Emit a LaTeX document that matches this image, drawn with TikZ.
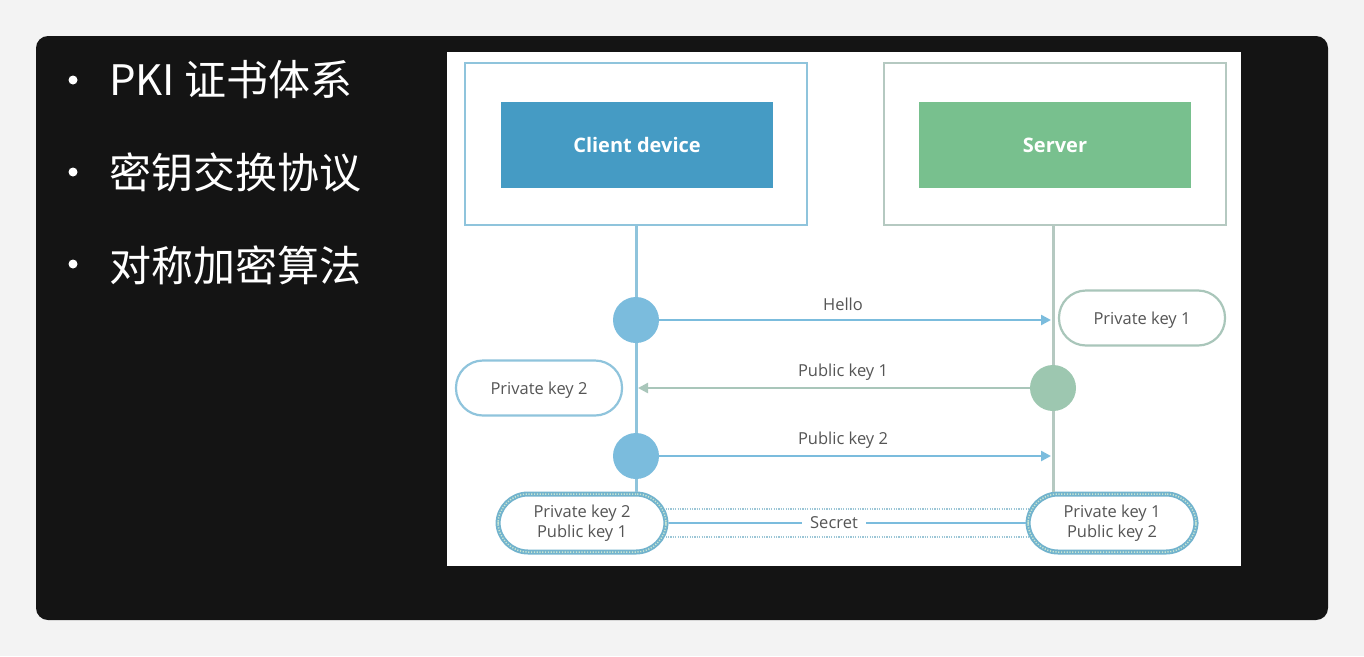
\documentclass[tikz,border=0pt]{standalone}
\usepackage{fontspec}
\setmainfont{Open Sans}
\newfontfamily\cjk{Noto Sans CJK SC}
\usetikzlibrary{arrows.meta,positioning,calc}
\definecolor{panelbg}{HTML}{141414}
\definecolor{pagebg}{HTML}{F3F3F3}
\definecolor{cfill}{HTML}{459BC4}
\definecolor{cline}{HTML}{8FC4DC}
\definecolor{sfill}{HTML}{78C08E}
\definecolor{sline}{HTML}{B5C9C1}
\definecolor{ccirc}{HTML}{7BBCDD}
\definecolor{scirc}{HTML}{9DC7B0}
\definecolor{sarrow}{HTML}{A9C6BA}
\definecolor{txt}{HTML}{555555}
\definecolor{botline}{HTML}{72B3CD}
\definecolor{botdot}{HTML}{C9E6D2}
\definecolor{secdot}{HTML}{9CC6D6}
\begin{document}
\begin{tikzpicture}[x=1pt,y=-1pt,
  outerbox/.style={draw, line width=2.5pt, fill=white, minimum width=342pt, minimum height=162pt, inner sep=0pt},
  fillbox/.style={minimum width=272pt, minimum height=86pt, inner sep=0pt, text depth=0pt, text=white, font=\fontsize{20}{22}\selectfont\bfseries},
  dotnode/.style={circle, minimum size=46pt, inner sep=0pt},
  msg/.style={line width=2.4pt, shorten >=2pt},
  msglabel/.style={text=txt, font=\fontsize{16.5}{18}\selectfont, inner sep=0pt},
  keybox/.style={draw, line width=2.2pt, fill=white, rounded corners=27pt, minimum width=166pt, minimum height=55pt, inner sep=0pt, text depth=0pt, text=txt, font=\fontsize{16.5}{18}\selectfont},
  botbox/.style={draw=botline, line width=5pt, fill=white, rounded corners=30pt, minimum width=168pt, minimum height=58pt, inner sep=0pt, text=txt, align=center, font=\fontsize{16.5}{20.5}\selectfont,
     postaction={draw=botdot, line width=1.5pt, dash pattern=on 1.2pt off 1.6pt}},
  secretdots/.style={draw=secdot, line width=2pt, dash pattern=on 1.2pt off 1.2pt},
  bullettext/.style={anchor=base west, inner sep=0pt, text=white, font=\cjk\fontsize{42}{44}\selectfont}
]
\useasboundingbox (0,0) rectangle (1364,656);
\fill[pagebg] (0,0) rectangle (1364,656);
\fill[panelbg, rounded corners=12pt] (36,36) rectangle (1328,620);
% bullets
\fill[white] (73,80) circle (4.5);
\fill[white] (73,172) circle (4.5);
\fill[white] (73,264) circle (4.5);
\node[bullettext] (b1) at (109,95) {PKI 证书体系};
\node[bullettext] (b2) at (109,188) {密钥交换协议};
\node[bullettext] (b3) at (109,281) {对称加密算法};
% white panel
\fill[white] (447,52) rectangle (1241,566);
% boxes
\node[outerbox, draw=cline] (cbox) at (636,144) {};
\node[fillbox, fill=cfill] (cdev) at (637,145) {Client device};
\node[outerbox, draw=sline] (sbox) at (1055,144) {};
\node[fillbox, fill=sfill] (sdev) at (1055,145) {Server};
% bottom boxes
\node[botbox] (bl) at (582,523) {Private key 2\\Public key 1};
\node[botbox] (br) at (1112,523) {Private key 1\\Public key 2};
% lifelines
\draw[cline, line width=3pt] (cbox.south) -- (cbox.south |- bl.north);
\draw[sline, line width=3pt] (sbox.south -| 1053,0) coordinate (stop) -- (stop |- br.north);
\coordinate (sl) at (1053,300);
\coordinate (cl) at (636,300);
% circles
\node[dotnode, fill=ccirc] (c1) at (636,320) {};
\node[dotnode, fill=scirc] (s1) at (1053,388) {};
\node[dotnode, fill=ccirc] (c2) at (636,456) {};
% key boxes
\node[keybox, draw=sarrow] (pk1) at (1142,318) {Private key 1};
\node[keybox, draw=cline] (pk2) at (539,388) {Private key 2};
% messages
\draw[msg, draw=ccirc, -{Triangle[length=10pt,width=10pt,fill=ccirc]}] (c1.east) -- (c1.east -| sl);
\node[msglabel] (l1) at (843,304) {Hello};
\draw[msg, draw=sarrow, -{Triangle[length=10pt,width=10pt,fill=sarrow]}] (s1.west) -- (s1.west -| cl);
\node[msglabel] (l2) at (843,372) {Public key 1};
\draw[msg, draw=ccirc, -{Triangle[length=10pt,width=10pt,fill=ccirc]}] (c2.east) -- (c2.east -| sl);
\node[msglabel] (l3) at (843,440) {Public key 2};
% secret
\node[msglabel, fill=white, inner xsep=8pt, inner ysep=2pt] (sec) at (834,523) {Secret};
\draw[ccirc, line width=2.2pt] (bl.east) -- (sec.west);
\draw[ccirc, line width=2.2pt] (sec.east) -- (br.west);
\draw[secretdots] ([yshift=14pt,xshift=-3pt]bl.east) -- ([yshift=14pt,xshift=3pt]br.west);
\draw[secretdots] ([yshift=-14pt,xshift=-3pt]bl.east) -- ([yshift=-14pt,xshift=3pt]br.west);
\end{tikzpicture}
\end{document}
